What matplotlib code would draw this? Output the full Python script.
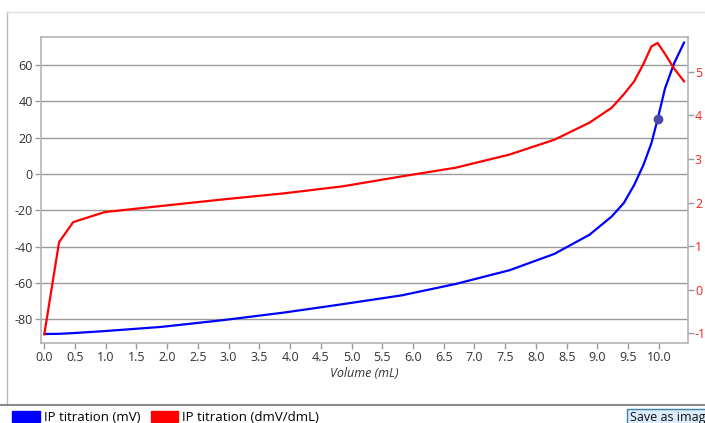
import matplotlib
matplotlib.use("Agg")
import matplotlib.pyplot as plt
from matplotlib.patches import Patch, Rectangle
from matplotlib.lines import Line2D

plt.rcParams['font.family'] = ['Open Sans', 'DejaVu Sans']
plt.rcParams['axes.unicode_minus'] = False

# titration data
volume = [0.0, 0.24, 0.47, 0.98, 1.9, 2.9, 3.9, 4.85, 5.82, 6.7, 7.57, 8.3,
          8.87, 9.23, 9.43, 9.6, 9.75, 9.88, 9.98, 10.1, 10.25, 10.41]
mv = [-88.1, -88.0, -87.6, -86.5, -84.2, -80.5, -76.3, -71.7, -66.8, -60.5, -53.0, -44.0,
      -33.5, -23.5, -16.0, -6.0, 5.0, 17.0, 30.0, 47.0, 61.0, 72.3]
dmv = [-1.02, 1.09, 1.55, 1.78, 1.92, 2.07, 2.21, 2.37, 2.6, 2.8, 3.1, 3.44,
       3.83, 4.17, 4.48, 4.78, 5.18, 5.58, 5.66, 5.41, 5.07, 4.78]
marker_x = [9.98]
marker_y = [30.3]

left_ticks = [-80, -60, -40, -20, 0, 20, 40, 60]
right_ticks = [-1, 0, 1, 2, 3, 4, 5]
x_ticks = [i * 0.5 for i in range(21)]

W, H = 705, 423
fig = plt.figure(figsize=(W / 100, H / 100), dpi=100)

ax = fig.add_axes([41 / W, 1 - 343 / H, 647 / W, 306 / H])
ax.set_xlim(-0.054, 10.475)
ax.set_ylim(-93.05, 75.4)
ax.set_yticks(left_ticks)
ax.set_xticks(x_ticks)
ax.set_xticklabels([f"{v:.1f}" for v in x_ticks])
ax.grid(axis='y', color='#9a9a9a', linewidth=1.0)
ax.set_axisbelow(True)
for s in ax.spines.values():
    s.set_color('#b4b4b4')
    s.set_linewidth(1.2)
ax.tick_params(colors='#9a9a9a', labelcolor='#333333', labelsize=9, length=4, width=1, pad=2)
ax.set_xlabel('Volume (mL)', fontsize=9, style='italic', color='#333333', labelpad=2)

ax2 = ax.twinx()
ax2.set_ylim(-1.222, 5.796)
ax2.set_yticks(right_ticks)
for s in ax2.spines.values():
    s.set_visible(False)
ax2.tick_params(colors='#9a9a9a', labelcolor='#ff2020', labelsize=9, length=4, width=1, pad=1)

ax.plot(volume, mv, color='#0000ff', linewidth=1.6, zorder=3)
ax2.plot(volume, dmv, color='#ff0000', linewidth=1.6, zorder=3)
ax.scatter(marker_x, marker_y, s=36, color='#4a4aa8', zorder=4)

# screenshot frame
fig.add_artist(Line2D([7 / W, 7 / W], [1 - 12 / H, 1 - 405 / H], color='#b8b8b8', linewidth=1))
fig.add_artist(Line2D([7 / W, 1], [1 - 12 / H, 1 - 12 / H], color='#e0e0e0', linewidth=1))
fig.add_artist(Line2D([0, 1], [1 - 405 / H, 1 - 405 / H], color='#8a8a8a', linewidth=1.5))

handles = [Patch(color='#0000ff', label='IP titration (mV)'),
           Patch(color='#ff0000', label='IP titration (dmV/dmL)')]
fig.legend(handles=handles, loc='lower left', bbox_to_anchor=(0.0, -0.03), ncol=2,
           frameon=False, fontsize=9.5, handlelength=2.1, handleheight=0.9,
           handletextpad=0.3, columnspacing=0.8)

fig.add_artist(Rectangle((627 / W, -0.01), 0.2, 18 / H, transform=fig.transFigure,
                         facecolor='#dcecfc', edgecolor='#3c7fb1', linewidth=1))
fig.text(630 / W, 1 - 417 / H, 'Save as imag', fontsize=9, color='#111111', va='center')

fig.savefig('out.png', dpi=100)
